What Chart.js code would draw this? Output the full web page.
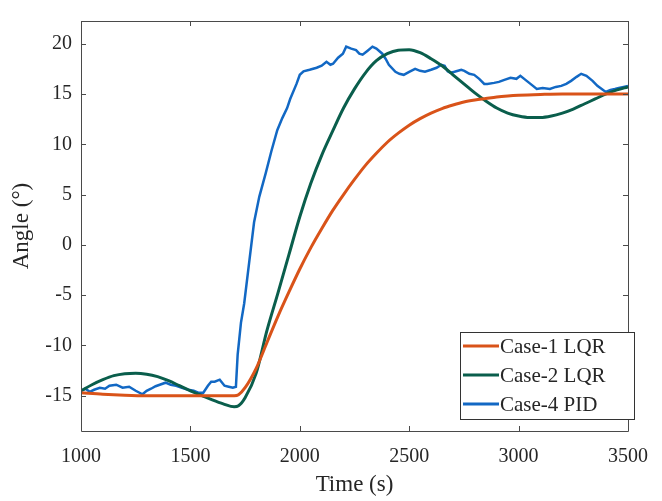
<!DOCTYPE html>
<html>
<head>
<meta charset="utf-8">
<script src="https://cdn.jsdelivr.net/npm/chart.js@4"></script>
<style>
html,body{margin:0;padding:0;background:#fff;}
#wrap{width:662px;height:501px;}
</style>
</head>
<body>
<div id="wrap"><canvas id="c" width="662" height="501"></canvas></div>
<script>
// ---- data ----
const seriesNames = ["Case-1 LQR", "Case-2 LQR", "Case-4 PID"];
const xTicks = [1000, 1500, 2000, 2500, 3000, 3500];
const yTicks = [-15, -10, -5, 0, 5, 10, 15, 20];

const case1Time = [1000,1100,1200,1300,1400,1500,1600,1700,1720,1750,1800,1850,1900,1950,2000,2050,2100,2150,2200,2250,2300,2350,2400,2450,2500,2550,2600,2650,2700,2750,2800,2850,2900,2950,3000,3100,3200,3300,3400,3500];
const case1Angle = [-14.7,-14.85,-14.95,-15.0,-15.0,-15.0,-15.0,-15.0,-14.9,-14.2,-12.3,-9.7,-7.1,-4.7,-2.4,-0.3,1.6,3.4,5.0,6.5,7.9,9.1,10.2,11.1,11.9,12.55,13.1,13.55,13.9,14.2,14.4,14.55,14.7,14.8,14.87,14.95,15.0,15.0,15.0,15.0];

const case2Time = [1000,1050,1100,1150,1200,1250,1300,1350,1400,1450,1500,1550,1600,1650,1700,1720,1750,1800,1850,1900,1950,2000,2050,2100,2150,2200,2250,2300,2350,2400,2450,2500,2550,2600,2650,2700,2750,2800,2850,2900,2950,3000,3050,3100,3150,3200,3250,3300,3350,3400,3450,3500];
const case2Angle = [-14.5,-13.9,-13.4,-13.0,-12.8,-12.75,-12.85,-13.1,-13.5,-14.0,-14.5,-14.95,-15.4,-15.8,-16.1,-16.0,-15.2,-12.8,-8.5,-4.8,-1.0,2.8,6.1,8.9,11.3,13.6,15.5,17.1,18.3,19.0,19.35,19.4,19.1,18.5,17.8,16.9,16.0,15.1,14.3,13.6,13.1,12.8,12.65,12.65,12.8,13.1,13.5,14.0,14.5,15.0,15.4,15.7];

const case4Time = [1000,1020,1040,1060,1086,1110,1130,1161,1190,1220,1250,1281,1300,1320,1341,1360,1386,1410,1435,1461,1490,1515,1536,1559,1580,1595,1611,1634,1656,1675,1694,1708,1716,1731,1746,1770,1791,1815,1844,1870,1897,1920,1942,1956,1985,2000,2017,2045,2077,2100,2122,2140,2152,2175,2197,2212,2235,2257,2272,2287,2310,2332,2350,2377,2392,2407,2437,2455,2475,2500,2527,2550,2572,2600,2625,2647,2662,2676,2690,2707,2738,2752,2775,2797,2820,2843,2857,2888,2910,2935,2963,2990,3008,3037,3060,3083,3110,3143,3170,3195,3218,3240,3265,3286,3310,3338,3360,3380,3398,3420,3440,3458,3480,3500];
const case4Angle = [-14.5,-14.3,-14.6,-14.4,-14.2,-14.3,-14.0,-13.9,-14.2,-14.1,-14.5,-14.85,-14.5,-14.3,-14.05,-13.9,-13.7,-13.9,-14.0,-14.2,-14.4,-14.5,-14.7,-14.7,-14.0,-13.6,-13.6,-13.4,-14.0,-14.1,-14.2,-14.1,-10.9,-7.75,-5.8,-1.5,2.25,4.8,7.1,9.3,11.4,12.6,13.6,14.5,16.0,16.9,17.25,17.4,17.6,17.8,18.2,17.9,18.0,18.6,19.0,19.7,19.5,19.35,19.0,18.9,19.3,19.7,19.5,19.0,18.5,17.9,17.2,17.0,16.9,17.2,17.5,17.3,17.2,17.4,17.6,17.9,17.8,17.25,17.1,17.2,17.4,17.3,17.0,16.9,16.5,16.0,16.0,16.1,16.2,16.4,16.6,16.5,16.8,16.3,15.9,15.5,15.6,15.5,15.7,15.8,16.0,16.3,16.7,17.0,16.8,16.3,15.8,15.5,15.2,15.4,15.5,15.6,15.7,15.8];

const FONT = '"Liberation Serif", "DejaVu Serif", serif';
const TXT = '#262626';
const AXC = '#4a4a4a';

function pts(t, v) { return t.map((x, i) => ({x: x, y: v[i]})); }

const boxPlugin = {
  id: 'boxPlugin',
  afterDatasetsDraw(chart) {
    const {ctx, chartArea: a, scales} = chart;
    const xs = scales.x, ys = scales.y;
    ctx.save();
    ctx.strokeStyle = AXC;
    ctx.lineWidth = 1;
    ctx.beginPath();
    ctx.rect(a.left + 0.5, a.top + 0.5, a.right - a.left, a.bottom - a.top);
    ctx.stroke();
    const tl = 5;
    ctx.beginPath();
    xTicks.forEach(v => {
      const p = Math.round(xs.getPixelForValue(v)) + 0.5;
      ctx.moveTo(p, a.bottom); ctx.lineTo(p, a.bottom - tl);
      ctx.moveTo(p, a.top); ctx.lineTo(p, a.top + tl);
    });
    yTicks.forEach(v => {
      const p = Math.round(ys.getPixelForValue(v)) + 0.5;
      ctx.moveTo(a.left, p); ctx.lineTo(a.left + tl, p);
      ctx.moveTo(a.right, p); ctx.lineTo(a.right - tl, p);
    });
    ctx.stroke();

    // legend inside plot (bottom-right)
    const L = 460, R = 634, T = 332, B = 419;
    ctx.fillStyle = '#fff';
    ctx.fillRect(L, T, R - L, B - T);
    ctx.strokeStyle = '#333';
    ctx.strokeRect(L + 0.5, T + 0.5, R - L, B - T);
    ctx.font = '21px ' + FONT;
    ctx.textBaseline = 'middle';
    chart.data.datasets.forEach((ds, i) => {
      const y = 346 + i * 29;
      ctx.strokeStyle = ds.borderColor;
      ctx.lineWidth = 3;
      ctx.beginPath(); ctx.moveTo(463, y); ctx.lineTo(499, y); ctx.stroke();
      ctx.fillStyle = TXT;
      ctx.fillText(ds.label, 500, y + 1);
    });
    ctx.restore();
  }
};

new Chart(document.getElementById('c'), {
  type: 'scatter',
  data: {
    datasets: [
      {label: seriesNames[0], data: pts(case1Time, case1Angle), borderColor: '#D95319', borderWidth: 3, showLine: true, pointRadius: 0, cubicInterpolationMode: 'monotone'},
      {label: seriesNames[1], data: pts(case2Time, case2Angle), borderColor: '#0A5E4C', borderWidth: 3, showLine: true, pointRadius: 0, cubicInterpolationMode: 'monotone'},
      {label: seriesNames[2], data: pts(case4Time, case4Angle), borderColor: '#1268C4', borderWidth: 2.5, showLine: true, pointRadius: 0, tension: 0}
    ]
  },
  options: {
    responsive: false,
    animation: false,
    layout: {padding: {left: 0, top: 10, right: 26, bottom: 0}},
    plugins: {legend: {display: false}, tooltip: {enabled: false}},
    scales: {
      x: {
        type: 'linear', min: 1000, max: 3500,
        afterBuildTicks: s => { s.ticks = xTicks.map(v => ({value: v})); },
        afterFit: s => { s.height = 70; },
        grid: {display: false, drawTicks: false},
        border: {display: false},
        ticks: {color: TXT, font: {family: FONT, size: 20}, padding: 14, maxRotation: 0, callback: v => String(v)},
        title: {display: true, text: 'Time (s)', color: TXT, font: {family: FONT, size: 23}, padding: {top: 2, bottom: 2}}
      },
      y: {
        type: 'linear', min: -18.5, max: 22.25,
        afterBuildTicks: s => { s.ticks = yTicks.map(v => ({value: v})); },
        afterFit: s => { s.width = 81; },
        grid: {display: false, drawTicks: false},
        border: {display: false},
        ticks: {color: TXT, font: {family: FONT, size: 20}, padding: 9, callback: v => String(v)},
        title: {display: true, text: 'Angle (°)', color: TXT, font: {family: FONT, size: 23}, padding: {top: 8, bottom: 8}}
      }
    }
  },
  plugins: [boxPlugin]
});
</script>
</body>
</html>
